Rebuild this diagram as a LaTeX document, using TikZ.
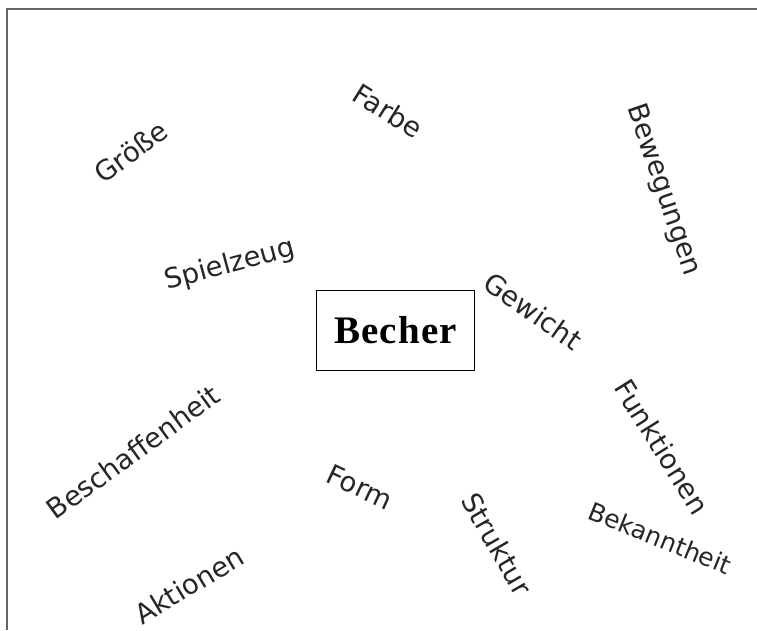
\documentclass[tikz,border=0pt]{standalone}
\usepackage{fontspec}
\setmainfont{DejaVu Sans}
\newfontfamily\wordfont{DejaVu Sans}
\newfontfamily\becherfont[LetterSpace=3]{Liberation Serif}
\begin{document}
\begin{tikzpicture}[x=1pt,y=-1pt,
  word/.style={inner sep=0pt, anchor=center, text=black!85,
    font=\wordfont\fontsize{27.5}{30}\selectfont},
  mainbox/.style={draw=black, line width=1.3pt, inner sep=0pt,
    minimum width=158pt, minimum height=80pt,
    font=\becherfont\bfseries\fontsize{39}{42}\selectfont},
  framing/.style={draw=black!60, line width=1.6pt}]
\useasboundingbox (0,0) rectangle (757,630);
\coordinate (fb) at (7,630);
\coordinate (fc) at (7,9);
\coordinate (fr) at (757,9);
\draw[framing] (fb) -- (fc) -- (fr);

\node[mainbox] (becher) at (395.5,330.5) {Becher};

\node[word, rotate=36] (groesse) at (131,152) {Größe};
\node[word, rotate=-32] (farbe) at (388,111) {Farbe};
\node[word, rotate=-71] (bewegungen) at (663,190) {Bewegungen};
\node[word, rotate=15] (spielzeug) at (230,265) {Spielzeug};
\node[word, rotate=-35] (gewicht) at (533,311) {Gewicht};
\node[word, rotate=-58] (funktionen) at (662,447) {Funktionen};
\node[word, rotate=36] (beschaffenheit) at (133,452) {Beschaffenheit};
\node[word, rotate=-25] (form) at (360,487) {Form};
\node[word, rotate=-60] (struktur) at (497,544) {Struktur};
\node[word, rotate=-22, font=\wordfont\fontsize{25}{28}\selectfont] (bekanntheit) at (660,538) {Bekanntheit};
\node[word, rotate=31] (aktionen) at (189,585) {Aktionen};
\end{tikzpicture}
\end{document}
